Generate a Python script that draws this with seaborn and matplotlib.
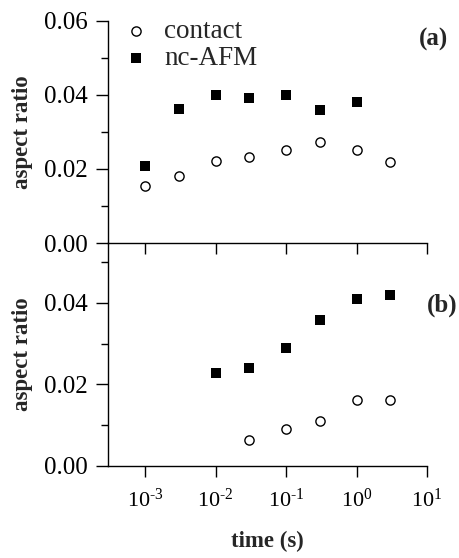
import numpy as np
import pandas as pd
import seaborn as sns
import matplotlib
matplotlib.use('Agg')
from matplotlib import pyplot as plt
from matplotlib.ticker import MultipleLocator, NullLocator, FormatStrFormatter

# (a) panel
t_contact_a = [1e-3, 3e-3, 1e-2, 3e-2, 1e-1, 3e-1, 1, 3]
ar_contact_a = [0.0154, 0.0181, 0.0222, 0.0233, 0.0251, 0.0272, 0.025, 0.022]
t_ncafm_a = [1e-3, 3e-3, 1e-2, 3e-2, 1e-1, 3e-1, 1]
ar_ncafm_a = [0.0209, 0.0361, 0.040, 0.0393, 0.040, 0.036, 0.038]

# (b) panel
t_contact_b = [3e-2, 1e-1, 3e-1, 1, 3]
ar_contact_b = [0.0064, 0.009, 0.011, 0.0162, 0.0162]
t_ncafm_b = [1e-2, 3e-2, 1e-1, 3e-1, 1, 3]
ar_ncafm_b = [0.0229, 0.024, 0.029, 0.0358, 0.0409, 0.042]

xtick_vals = [1e-3, 1e-2, 1e-1, 1, 10]
xtick_labels = [r'$10^{\text{-3}}$', r'$10^{\text{-2}}$', r'$10^{\text{-1}}$',
                r'$10^{0}$', r'$10^{1}$']

sns.set_style('ticks')
plt.rcParams['font.family'] = ['Liberation Serif', 'DejaVu Serif']
plt.rcParams['mathtext.fontset'] = 'custom'
plt.rcParams['mathtext.rm'] = 'Liberation Serif'
plt.rcParams['mathtext.it'] = 'Liberation Serif:italic'
plt.rcParams['mathtext.bf'] = 'Liberation Serif:bold'

fig = plt.figure(figsize=(4.59, 5.58), dpi=100)
ax1 = fig.add_axes([0.2353, 0.5645, 0.695, 0.3979])
ax2 = fig.add_axes([0.2353, 0.1649, 0.695, 0.3996])

circ = dict(marker='o', s=44, facecolor='white', edgecolor='black', linewidth=1.0)
sq = dict(marker='s', s=50, color='black', edgecolor='black', linewidth=0)

sns.scatterplot(x=t_contact_a, y=ar_contact_a, ax=ax1, label='contact', zorder=3, **circ)
sns.scatterplot(x=t_ncafm_a, y=ar_ncafm_a, ax=ax1, label='nc-AFM', zorder=3, **sq)
sns.scatterplot(x=t_contact_b, y=ar_contact_b, ax=ax2, zorder=3, **circ)
sns.scatterplot(x=t_ncafm_b, y=ar_ncafm_b, ax=ax2, zorder=3, **sq)

for ax in (ax1, ax2):
    ax.set_xscale('log')
    ax.set_xlim(10 ** -3.525, 10)
    ax.set_xticks(xtick_vals)
    ax.xaxis.set_minor_locator(NullLocator())
    ax.yaxis.set_major_locator(MultipleLocator(0.02))
    ax.yaxis.set_minor_locator(MultipleLocator(0.01))
    ax.yaxis.set_major_formatter(FormatStrFormatter('%.2f'))
    ax.spines['top'].set_visible(False)
    ax.spines['right'].set_visible(False)
    for sp in ('left', 'bottom'):
        ax.spines[sp].set_linewidth(1.0)
        ax.spines[sp].set_color('black')
    ax.tick_params(axis='y', which='major', direction='out', length=8.5, width=1,
                   pad=6, labelsize=18, colors='black')
    ax.tick_params(axis='y', which='minor', direction='out', length=5, width=1, colors='black')
    ax.tick_params(axis='x', which='major', direction='out', length=8, width=1,
                   pad=8, labelsize=16, colors='black')
    ax.set_ylabel('aspect ratio', fontsize=16.5, fontweight='bold', labelpad=8)
    ax.patch.set_alpha(0)

ax1.set_zorder(2)
ax1.set_ylim(0, 0.06)
ax2.set_ylim(0, 0.0547)
ax1.set_xticklabels([])
ax2.set_xticklabels(xtick_labels)
ax2.set_xlabel('time (s)', fontsize=16.5, fontweight='bold', labelpad=14)

ax1.text(1.066, 0.919, '(a)', transform=ax1.transAxes, ha='right', va='center',
         fontsize=18, fontweight='bold')
ax2.text(1.097, 0.72, '(b)', transform=ax2.transAxes, ha='right', va='center',
         fontsize=18, fontweight='bold')

ax1.legend(loc='upper left', bbox_to_anchor=(0.044, 1.01), frameon=False, fontsize=19.5,
           borderaxespad=0, borderpad=0, handlelength=1.0, handletextpad=0.55,
           labelspacing=0.1)
if ax2.get_legend() is not None:
    ax2.get_legend().remove()

fig.savefig('out.png', dpi=100, facecolor='white')
